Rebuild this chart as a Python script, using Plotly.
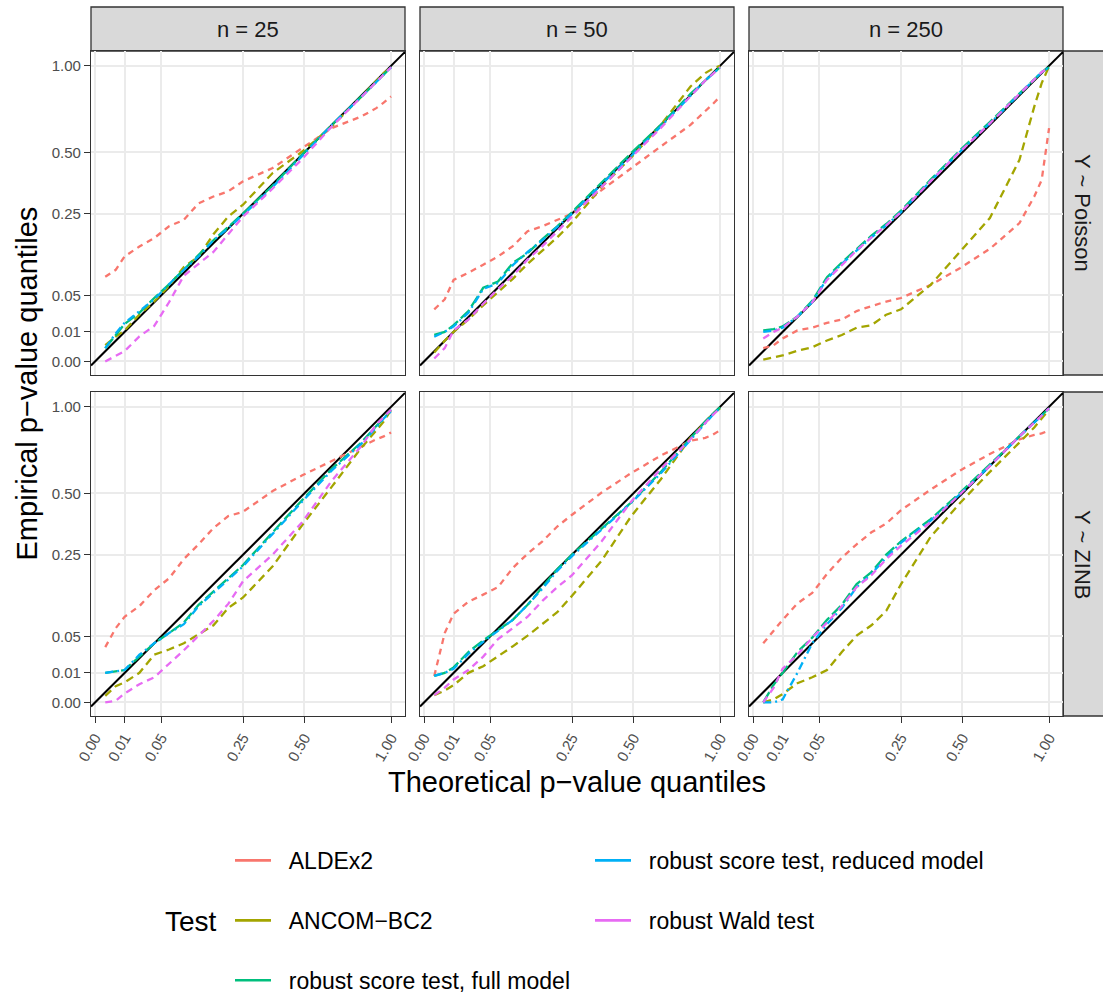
import numpy as np
import plotly.graph_objects as go

# ---------------- data (p-value quantiles) ----------------
TESTS = ["ALDEx2", "ANCOM\u2212BC2", "robust score test, full model",
         "robust score test, reduced model", "robust Wald test"]
SAMPLE_SIZES = ["n = 25", "n = 50", "n = 250"]
MODELS = ["Y ~ Poisson", "Y ~ ZINB"]

THEORETICAL = [0.0012, 0.0049, 0.01, 0.0225, 0.04, 0.0625, 0.09, 0.1225, 0.16,
               0.2025, 0.25, 0.36, 0.49, 0.64, 0.81, 0.9025, 0.9506, 1.0]

POIS25_ALDEX2 = [0.082, 0.096, 0.126, 0.151, 0.174, 0.209, 0.229, 0.286, 0.311, 0.331, 0.371, 0.428, 0.521, 0.623, 0.687, 0.734, 0.766, 0.803]
POIS25_ANCOM = [0.003, 0.007, 0.011, 0.025, 0.041, 0.065, 0.102, 0.126, 0.185, 0.240, 0.281, 0.406, 0.504, 0.632, 0.803, 0.903, 0.951, 0.990]
POIS25_FULL = [0.002, 0.008, 0.016, 0.027, 0.046, 0.068, 0.096, 0.130, 0.168, 0.207, 0.250, 0.354, 0.490, 0.640, 0.801, 0.893, 0.941, 0.990]
POIS25_REDUCED = [0.002, 0.009, 0.017, 0.029, 0.044, 0.068, 0.096, 0.126, 0.168, 0.203, 0.245, 0.348, 0.483, 0.640, 0.801, 0.893, 0.941, 0.990]
POIS25_WALD = [0.0, 0.0004, 0.0012, 0.0072, 0.0144, 0.040, 0.084, 0.109, 0.137, 0.185, 0.240, 0.342, 0.469, 0.632, 0.801, 0.893, 0.941, 0.990]

POIS50_ALDEX2 = [0.031, 0.044, 0.076, 0.090, 0.107, 0.126, 0.152, 0.194, 0.209, 0.229, 0.250, 0.336, 0.428, 0.529, 0.640, 0.714, 0.757, 0.803]
POIS50_ANCOM = [0.0009, 0.0049, 0.010, 0.020, 0.036, 0.055, 0.078, 0.109, 0.141, 0.176, 0.221, 0.348, 0.476, 0.640, 0.865, 0.951, 0.980, 1.000]
POIS50_FULL = [0.008, 0.010, 0.015, 0.029, 0.062, 0.073, 0.111, 0.134, 0.171, 0.209, 0.255, 0.366, 0.497, 0.640, 0.819, 0.903, 0.945, 0.990]
POIS50_REDUCED = [0.007, 0.010, 0.014, 0.027, 0.060, 0.070, 0.106, 0.137, 0.168, 0.207, 0.250, 0.360, 0.483, 0.632, 0.810, 0.903, 0.945, 0.990]
POIS50_WALD = [0.0001, 0.002, 0.011, 0.020, 0.038, 0.060, 0.084, 0.119, 0.152, 0.194, 0.240, 0.348, 0.476, 0.624, 0.801, 0.903, 0.945, 0.990]

POIS250_ALDEX2 = [0.002, 0.003, 0.006, 0.011, 0.013, 0.017, 0.020, 0.029, 0.035, 0.041, 0.046, 0.067, 0.100, 0.145, 0.219, 0.311, 0.377, 0.623]
POIS250_ANCOM = [0.00004, 0.0002, 0.0004, 0.0013, 0.0023, 0.005, 0.008, 0.013, 0.015, 0.025, 0.031, 0.067, 0.138, 0.235, 0.465, 0.743, 0.886, 0.996]
POIS250_FULL = [0.011, 0.012, 0.014, 0.023, 0.042, 0.081, 0.112, 0.144, 0.181, 0.216, 0.260, 0.378, 0.511, 0.656, 0.819, 0.912, 0.957, 0.990]
POIS250_REDUCED = [0.010, 0.011, 0.013, 0.023, 0.040, 0.078, 0.109, 0.141, 0.176, 0.212, 0.255, 0.372, 0.504, 0.648, 0.819, 0.912, 0.957, 0.990]
POIS250_WALD = [0.006, 0.010, 0.013, 0.023, 0.040, 0.076, 0.106, 0.141, 0.176, 0.212, 0.255, 0.372, 0.504, 0.648, 0.819, 0.912, 0.957, 0.990]

ZINB25_ALDEX2 = [0.035, 0.063, 0.084, 0.106, 0.144, 0.176, 0.235, 0.286, 0.348, 0.397, 0.416, 0.511, 0.590, 0.668, 0.746, 0.792, 0.810, 0.834]
ZINB25_ANCOM = [0.0005, 0.003, 0.0046, 0.010, 0.026, 0.032, 0.040, 0.053, 0.068, 0.102, 0.126, 0.212, 0.360, 0.533, 0.743, 0.846, 0.903, 0.980]
ZINB25_FULL = [0.010, 0.011, 0.012, 0.024, 0.040, 0.055, 0.073, 0.109, 0.141, 0.176, 0.216, 0.331, 0.469, 0.624, 0.774, 0.874, 0.922, 0.980]
ZINB25_REDUCED = [0.010, 0.011, 0.012, 0.026, 0.040, 0.055, 0.070, 0.106, 0.137, 0.172, 0.212, 0.325, 0.462, 0.616, 0.766, 0.865, 0.922, 0.970]
ZINB25_WALD = [0.0, 0.00003, 0.0009, 0.0038, 0.0072, 0.017, 0.031, 0.051, 0.076, 0.111, 0.168, 0.250, 0.372, 0.563, 0.753, 0.884, 0.931, 0.980]

ZINB50_ALDEX2 = [0.008, 0.055, 0.090, 0.116, 0.133, 0.152, 0.207, 0.253, 0.297, 0.354, 0.403, 0.504, 0.602, 0.697, 0.783, 0.801, 0.819, 0.848]
ZINB50_ANCOM = [0.0006, 0.0016, 0.0034, 0.010, 0.015, 0.024, 0.036, 0.051, 0.070, 0.093, 0.130, 0.230, 0.397, 0.570, 0.801, 0.903, 0.951, 0.990]
ZINB50_FULL = [0.008, 0.010, 0.014, 0.029, 0.044, 0.060, 0.078, 0.109, 0.152, 0.203, 0.250, 0.345, 0.458, 0.608, 0.801, 0.903, 0.951, 0.996]
ZINB50_REDUCED = [0.008, 0.010, 0.013, 0.027, 0.042, 0.058, 0.078, 0.109, 0.148, 0.198, 0.245, 0.342, 0.456, 0.601, 0.792, 0.893, 0.945, 0.992]
ZINB50_WALD = [0.0006, 0.0025, 0.006, 0.012, 0.024, 0.046, 0.063, 0.084, 0.118, 0.152, 0.185, 0.297, 0.462, 0.624, 0.792, 0.893, 0.945, 0.990]

ZINB250_ALDEX2 = [0.040, 0.060, 0.078, 0.112, 0.137, 0.189, 0.240, 0.286, 0.331, 0.366, 0.423, 0.518, 0.616, 0.706, 0.792, 0.819, 0.828, 0.846]
ZINB250_ANCOM = [0.0, 0.0001, 0.0008, 0.0042, 0.0072, 0.012, 0.029, 0.051, 0.068, 0.096, 0.160, 0.314, 0.456, 0.608, 0.773, 0.865, 0.922, 0.980]
ZINB250_FULL = [0.0, 0.0036, 0.010, 0.029, 0.048, 0.078, 0.109, 0.160, 0.194, 0.250, 0.297, 0.384, 0.504, 0.648, 0.810, 0.893, 0.941, 0.990]
ZINB250_REDUCED = [0.0, 0.0, 0.0001, 0.010, 0.040, 0.070, 0.102, 0.152, 0.189, 0.240, 0.292, 0.378, 0.497, 0.640, 0.810, 0.893, 0.941, 0.990]
ZINB250_WALD = [0.0, 0.0025, 0.013, 0.026, 0.048, 0.073, 0.106, 0.152, 0.185, 0.235, 0.281, 0.372, 0.497, 0.640, 0.810, 0.893, 0.941, 0.990]

TICK_VALUES = [0.0, 0.01, 0.05, 0.25, 0.5, 1.0]
TICK_LABELS = ["0.00", "0.01", "0.05", "0.25", "0.50", "1.00"]

PANELS = {
    (0, 0): [POIS25_ALDEX2, POIS25_ANCOM, POIS25_FULL, POIS25_REDUCED, POIS25_WALD],
    (0, 1): [POIS50_ALDEX2, POIS50_ANCOM, POIS50_FULL, POIS50_REDUCED, POIS50_WALD],
    (0, 2): [POIS250_ALDEX2, POIS250_ANCOM, POIS250_FULL, POIS250_REDUCED, POIS250_WALD],
    (1, 0): [ZINB25_ALDEX2, ZINB25_ANCOM, ZINB25_FULL, ZINB25_REDUCED, ZINB25_WALD],
    (1, 1): [ZINB50_ALDEX2, ZINB50_ANCOM, ZINB50_FULL, ZINB50_REDUCED, ZINB50_WALD],
    (1, 2): [ZINB250_ALDEX2, ZINB250_ANCOM, ZINB250_FULL, ZINB250_REDUCED, ZINB250_WALD],
}

# ---------------- styling ----------------
COLORS = ["#F8766D", "#A3A500", "#00BF7D", "#00B0F6", "#E76BF3"]
DASHES = ["6px,5px", "8px,5px", "12px,4px", "8px,4px,2px,4px", "7px,5px"]
FONT = "Liberation Sans, Arial, Helvetica, sans-serif"

W, H = 1103, 993
COL_PX = [(91, 405), (420, 734), (749, 1063)]
ROW_PX = [(51, 375), (392, 716)]
X_RANGE = [-0.0135, 1.047]
Y_RANGE = [-0.046, 1.05]


def fx(p):
    return p / W


def fy(p):
    return 1 - p / H


def transform(v):  # sqrt axis transform (scale_*_sqrt)
    return np.sqrt(np.asarray(v, dtype=float))


fig = go.Figure()
layout_axes = {}

for r in range(2):
    for c in range(3):
        k = r * 3 + c + 1
        xa = "x" if k == 1 else f"x{k}"
        ya = "y" if k == 1 else f"y{k}"
        # reference line y = x across the panel
        fig.add_trace(go.Scatter(x=X_RANGE, y=X_RANGE, mode="lines",
                                 line=dict(color="black", width=2.1),
                                 xaxis=xa, yaxis=ya, showlegend=False,
                                 hoverinfo="skip"))
        for i, test in enumerate(TESTS):
            fig.add_trace(go.Scatter(
                x=transform(THEORETICAL), y=transform(PANELS[(r, c)][i]),
                mode="lines", name=test, legendgroup=test, showlegend=False,
                line=dict(color=COLORS[i], width=2.3, dash=DASHES[i]),
                xaxis=xa, yaxis=ya,
                customdata=np.array(PANELS[(r, c)][i]),
                hovertemplate="theoretical %{x:.3f}<br>empirical %{customdata:.3f}<extra>" + test + "</extra>"))

        common = dict(showgrid=True, gridcolor="#EBEBEB", gridwidth=1.5,
                      zeroline=False, showline=True, mirror=True,
                      linecolor="#333333", linewidth=1.3,
                      tickvals=transform(TICK_VALUES), ticktext=TICK_LABELS,
                      tickfont=dict(family=FONT, size=15, color="#4D4D4D"),
                      tickcolor="#333333", tickwidth=1.3, ticklen=6)
        xkey = "xaxis" if k == 1 else f"xaxis{k}"
        ykey = "yaxis" if k == 1 else f"yaxis{k}"
        layout_axes[xkey] = dict(common, domain=[fx(COL_PX[c][0]), fx(COL_PX[c][1])],
                                 anchor=ya, range=X_RANGE,
                                 showticklabels=(r == 1),
                                 ticks="outside" if r == 1 else "",
                                 tickangle=-60)
        layout_axes[ykey] = dict(common, domain=[fy(ROW_PX[r][1]), fy(ROW_PX[r][0])],
                                 anchor=xa, range=Y_RANGE,
                                 showticklabels=(c == 0),
                                 ticks="outside" if c == 0 else "")

# legend-only entries (solid keys, as in the reference)
for i, test in enumerate(TESTS):
    fig.add_trace(go.Scatter(x=[None], y=[None], mode="lines",
                             name="\u00a0\u00a0" + test, legendgroup=test,
                             line=dict(color=COLORS[i], width=2.7),
                             legend="legend" if i < 3 else "legend2",
                             showlegend=True))

shapes = []
annotations = []
# top strips
for c, label in enumerate(SAMPLE_SIZES):
    shapes.append(dict(type="rect", xref="paper", yref="paper",
                       x0=fx(COL_PX[c][0]), x1=fx(COL_PX[c][1]),
                       y0=fy(51), y1=fy(7), fillcolor="#D9D9D9",
                       line=dict(color="#333333", width=1.3), layer="below"))
    annotations.append(dict(text=label, xref="paper", yref="paper",
                            x=fx((COL_PX[c][0] + COL_PX[c][1]) / 2), y=fy(29),
                            showarrow=False, xanchor="center", yanchor="middle",
                            font=dict(family=FONT, size=22, color="#1A1A1A")))
# right strips
for r, label in enumerate(MODELS):
    shapes.append(dict(type="rect", xref="paper", yref="paper",
                       x0=fx(1063), x1=fx(1104),
                       y0=fy(ROW_PX[r][1]), y1=fy(ROW_PX[r][0]), fillcolor="#D9D9D9",
                       line=dict(color="#333333", width=1.3), layer="below"))
    annotations.append(dict(text=label, xref="paper", yref="paper",
                            x=fx(1083), y=fy((ROW_PX[r][0] + ROW_PX[r][1]) / 2),
                            showarrow=False, textangle=90,
                            xanchor="center", yanchor="middle",
                            font=dict(family=FONT, size=22, color="#1A1A1A")))

annotations.append(dict(text="Theoretical p\u2212value quantiles", xref="paper", yref="paper",
                        x=fx(577), y=fy(782), showarrow=False,
                        xanchor="center", yanchor="middle",
                        font=dict(family=FONT, size=29, color="black")))
annotations.append(dict(text="Empirical p\u2212value quantiles", xref="paper", yref="paper",
                        x=fx(26), y=fy(383.5), showarrow=False, textangle=-90,
                        xanchor="center", yanchor="middle",
                        font=dict(family=FONT, size=29, color="black")))
annotations.append(dict(text="Test", xref="paper", yref="paper",
                        x=fx(163), y=fy(921), showarrow=False,
                        xanchor="left", yanchor="middle",
                        font=dict(family=FONT, size=28, color="black")))

legend_common = dict(orientation="v", xanchor="left", yanchor="top",
                     font=dict(family=FONT, size=23, color="black"),
                     bgcolor="rgba(0,0,0,0)", itemwidth=36, tracegroupgap=27,
                     valign="middle")

fig.update_layout(
    width=W, height=H,
    margin=dict(l=0, r=0, t=0, b=0, autoexpand=False),
    paper_bgcolor="white", plot_bgcolor="white",
    font=dict(family=FONT),
    shapes=shapes, annotations=annotations,
    legend=dict(legend_common, x=fx(230), y=fy(839)),
    legend2=dict(legend_common, x=fx(590), y=fy(839)),
    **layout_axes,
)

fig.write_html("out.html")
